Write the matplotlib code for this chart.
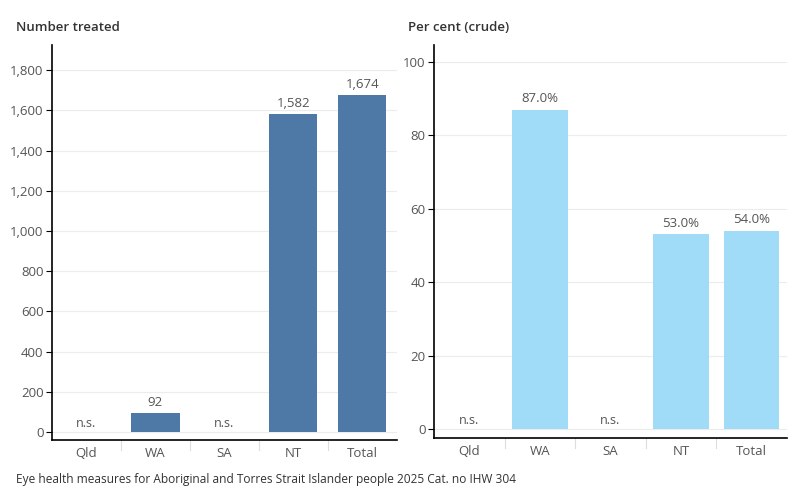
import matplotlib.pyplot as plt
import numpy as np

plt.rcParams['font.family'] = ['Open Sans', 'DejaVu Sans']

states = ["Qld", "WA", "SA", "NT", "Total"]
number_treated = [None, 92, None, 1582, 1674]
per_cent = [None, 87.0, None, 53.0, 54.0]

dark_blue = "#4e79a7"
light_blue = "#a0dcf8"
text_col = "#555555"
grid_col = "#ececec"

fig = plt.figure(figsize=(8, 5), dpi=100)
ax1 = fig.add_axes([0.065, 0.12, 0.431, 0.79])
ax2 = fig.add_axes([0.5425, 0.124, 0.441, 0.786])

x = np.arange(len(states))


def style(ax, ticks, fmt):
    ax.set_xlim(-0.5, len(states) - 0.5)
    ax.set_yticks(ticks)
    ax.set_yticklabels([fmt(t) for t in ticks], color=text_col, fontsize=9.5)
    ax.set_xticks(x)
    ax.set_xticklabels(states, color=text_col, fontsize=9.5)
    ax.tick_params(axis="x", length=0, pad=5)
    ax.tick_params(axis="y", length=4, width=0.8, pad=2)
    for s in ["top", "right"]:
        ax.spines[s].set_visible(False)
    ax.spines["left"].set_linewidth(1.2)
    ax.spines["bottom"].set_linewidth(1.2)
    ax.grid(axis="y", color=grid_col, linewidth=0.8)
    ax.set_axisbelow(True)
    # category separators below the axis line
    for b in np.arange(0.5, len(states) - 1, 1.0):
        ax.plot([b, b], [0, -0.025], transform=ax.get_xaxis_transform(),
                color="#dddddd", lw=0.8, clip_on=False)


# left panel: number treated
vals1 = [v if v is not None else 0 for v in number_treated]
ax1.bar(x, vals1, width=0.7, color=dark_blue)
ax1.set_ylim(-40, 1925)
style(ax1, np.arange(0, 1801, 200), lambda t: f"{t:,}")
for i, v in enumerate(number_treated):
    if v is None:
        ax1.text(i, 10, "n.s.", ha="center", va="bottom", color=text_col, fontsize=9)
    else:
        ax1.text(i, v + 22, f"{v:,}", ha="center", va="bottom", color=text_col, fontsize=9.5)

# right panel: per cent
vals2 = [v if v is not None else 0 for v in per_cent]
ax2.bar(x, vals2, width=0.79, color=light_blue)
ax2.set_ylim(-2.45, 104.6)
style(ax2, np.arange(0, 101, 20), lambda t: f"{t}")
for i, v in enumerate(per_cent):
    if v is None:
        ax2.text(i, 0.5, "n.s.", ha="center", va="bottom", color=text_col, fontsize=9)
    else:
        ax2.text(i, v + 1.2, f"{v:.1f}%", ha="center", va="bottom", color=text_col, fontsize=9.5)

fig.text(0.02, 0.945, "Number treated", fontsize=9.5, weight="semibold", color="#333333", va="center")
fig.text(0.51, 0.945, "Per cent (crude)", fontsize=9.5, weight="semibold", color="#333333", va="center")
fig.text(0.02, 0.042, "Eye health measures for Aboriginal and Torres Strait Islander people 2025 Cat. no IHW 304",
         fontsize=8.6, color="#333333", va="center")

fig.savefig("out.png", dpi=100)
